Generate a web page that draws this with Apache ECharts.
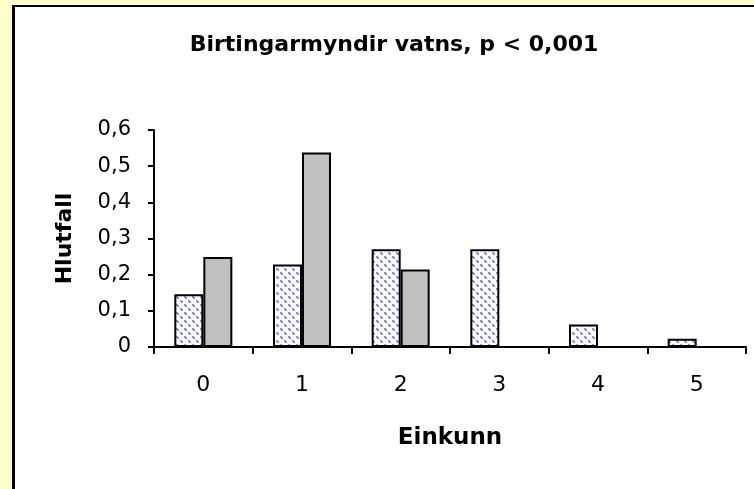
<!DOCTYPE html>
<html>
<head>
<meta charset="utf-8">
<script src="https://cdn.jsdelivr.net/npm/echarts@6/dist/echarts.min.js"></script>
<style>
html,body{margin:0;padding:0;background:#FFFFCC;}
#c{width:754px;height:489px;}
</style>
</head>
<body>
<div id="c"></div>
<script>
var categories = ['0', '1', '2', '3', '4', '5'];
var seriesA = [0.146, 0.228, 0.27, 0.27, 0.062, 0.023];
var seriesB = [0.249, 0.538, 0.214, 0, 0, 0];
var yTicks = [0, 0.1, 0.2, 0.3, 0.4, 0.5, 0.6];

function makeHatch() {
  var n = 8;
  var cv = document.createElement('canvas');
  cv.width = n; cv.height = n;
  var ctx = cv.getContext('2d');
  ctx.fillStyle = '#ffffff';
  ctx.fillRect(0, 0, n, n);
  ctx.fillStyle = '#8c8cff';
  ctx.fillRect(0, 0, 2, 2);
  ctx.fillRect(1, 1, 2, 2);
  ctx.fillRect(4, 4, 2, 2);
  ctx.fillRect(5, 5, 2, 2);
  return cv;
}

var chart = echarts.init(document.getElementById('c'), null, {renderer: 'canvas'});
var font = '"DejaVu Sans", Arial, sans-serif';
chart.setOption({
  backgroundColor: '#FFFFCC',
  animation: false,
  graphic: [
    {type: 'rect', z: -10, shape: {x: 12, y: 5, width: 800, height: 600}, style: {fill: '#000'}},
    {type: 'rect', z: -9, shape: {x: 15, y: 7, width: 800, height: 600}, style: {fill: '#fff'}}
  ],
  title: {
    text: 'Birtingarmyndir vatns, p < 0,001',
    left: 389, top: 29, textAlign: 'center',
    textStyle: {fontFamily: font, fontWeight: 'bold', fontSize: 22, color: '#000'}
  },
  grid: {left: 154, right: 8, top: 130, bottom: 142, containLabel: false},
  xAxis: {
    type: 'category',
    data: categories,
    name: 'Einkunn',
    nameLocation: 'middle',
    nameGap: 80,
    nameTextStyle: {fontFamily: font, fontWeight: 'bold', fontSize: 23, color: '#000'},
    axisLine: {lineStyle: {color: '#000', width: 2}},
    axisTick: {show: true, length: 7, lineStyle: {color: '#000', width: 2}},
    axisLabel: {fontFamily: font, fontSize: 22, color: '#000', margin: 27}
  },
  yAxis: {
    type: 'value',
    min: 0, max: 0.6, interval: 0.1,
    name: 'Hlutfall',
    nameLocation: 'middle',
    nameRotate: 90,
    nameGap: 78,
    nameTextStyle: {fontFamily: font, fontWeight: 'bold', fontSize: 22, color: '#000'},
    splitLine: {show: false},
    axisLine: {show: true, lineStyle: {color: '#000', width: 2}},
    axisTick: {show: true, length: 6, lineStyle: {color: '#000', width: 2}},
    axisLabel: {
      fontFamily: font, fontSize: 21, color: '#000', margin: 23,
      formatter: function (v) {
        var t = yTicks.filter(function (x) { return Math.abs(x - v) < 1e-9; });
        return t.length ? String(Math.round(v * 10) / 10).replace('.', ',') : '';
      }
    }
  },
  series: [
    {
      type: 'bar', data: seriesA, barWidth: 29, barGap: '0%',
      itemStyle: {color: {image: makeHatch(), repeat: 'repeat'}, borderColor: '#000', borderWidth: 2}
    },
    {
      type: 'bar', data: seriesB, barWidth: 29,
      itemStyle: {color: '#c0c0c0', borderColor: '#000', borderWidth: 2}
    }
  ]
});
</script>
</body>
</html>
